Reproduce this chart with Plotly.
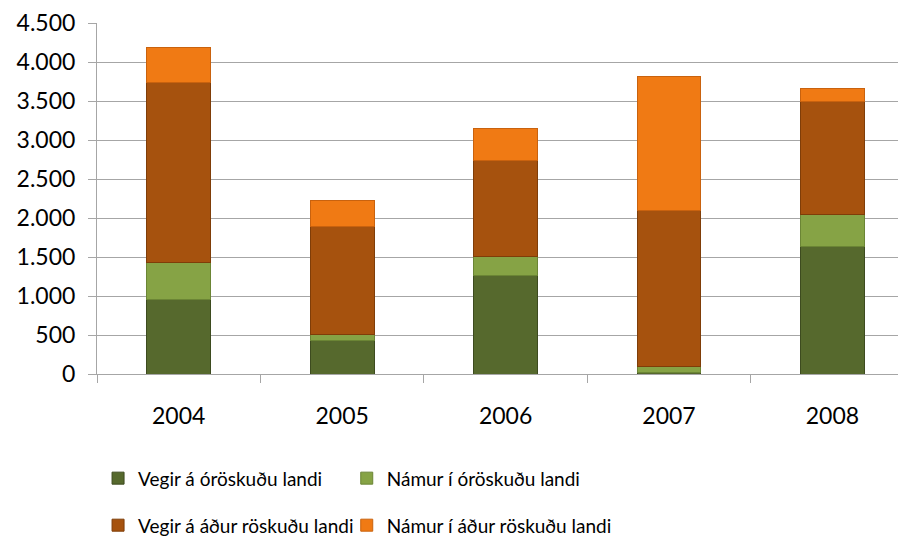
import plotly.graph_objects as go

years = ["2004", "2005", "2006", "2007", "2008"]
vegir_oroskudu = [960, 430, 1260, 15, 1640]
namur_oroskudu = [470, 80, 245, 85, 400]
vegir_adur = [2310, 1380, 1235, 2000, 1450]
namur_adur = [440, 330, 410, 1710, 170]

series_names = [
    "Vegir á óröskuðu landi",
    "Námur í óröskuðu landi",
    "Vegir á áður röskuðu landi",
    "Námur í áður röskuðu landi",
]
series_values = [vegir_oroskudu, namur_oroskudu, vegir_adur, namur_adur]
colors = ["#56692d", "#86a345", "#a6520e", "#f07a14"]
edge_colors = ["#3d4b1f", "#6b8535", "#7f3d08", "#c9620e"]
legend_ids = ["legend", "legend2", "legend3", "legend4"]

FONT = "Lato, 'Open Sans', sans-serif"

fig = go.Figure()
for name, vals, c, ec, lg in zip(series_names, series_values, colors, edge_colors, legend_ids):
    fig.add_trace(go.Bar(
        x=years, y=vals, name=name,
        marker=dict(color=c, line=dict(color=ec, width=1)),
        legend=lg, showlegend=True,
    ))

grid = "#a6a6a6"
legend_common = dict(
    orientation="h", xanchor="left", yanchor="top",
    font=dict(family=FONT, size=19), itemwidth=30,
    bgcolor="rgba(0,0,0,0)", visible=True,
)
col_x = [0.0013, 0.3087]
row_y = [-0.243, -0.377]
fig.update_layout(
    width=898, height=540,
    margin=dict(l=89, r=0, t=15, b=174, autoexpand=False),
    showlegend=True,
    barmode="stack",
    bargap=0.61,
    plot_bgcolor="white",
    paper_bgcolor="white",
    separators=",.",
    font=dict(family=FONT, size=23, color="#000000"),
    xaxis=dict(
        range=[-0.5, 4.45], automargin=False,
        showline=True, linecolor=grid, linewidth=1,
        ticks="outside", tickson="boundaries", ticklen=8, tickcolor=grid,
        ticklabelstandoff=21,
        showgrid=False,
    ),
    yaxis=dict(
        range=[0, 4500], dtick=500, tickformat=",d", automargin=False,
        showline=True, linecolor=grid, linewidth=1,
        ticks="outside", ticklen=8, tickcolor=grid,
        ticklabelstandoff=8,
        showgrid=True, gridcolor=grid, gridwidth=1,
        zeroline=False,
    ),
    legend=dict(legend_common, x=col_x[0], y=row_y[0]),
    legend2=dict(legend_common, x=col_x[1], y=row_y[0]),
    legend3=dict(legend_common, x=col_x[0], y=row_y[1]),
    legend4=dict(legend_common, x=col_x[1], y=row_y[1]),
)

fig.write_html("out.html")
